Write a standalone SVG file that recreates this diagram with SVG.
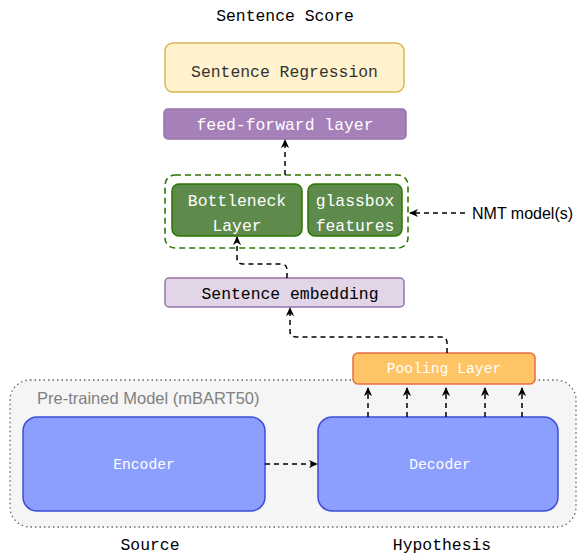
<svg xmlns="http://www.w3.org/2000/svg" width="578" height="553" viewBox="0 0 578 553">
  <style>
    .mono { font-family: "Liberation Mono", "Courier New", monospace; text-anchor: middle; dominant-baseline: central; }
    .big { font-size: 16.4px; }
    .small { font-size: 14.7px; }
    .sans { font-family: "Liberation Sans", Arial, Helvetica, sans-serif; }
    .flow { fill: none; stroke: #000; stroke-width: 1.5; stroke-dasharray: 5 4; marker-end: url(#head); }
  </style>
  <defs>
    <marker id="head" viewBox="0 0 10 10" refX="9" refY="5" markerWidth="9" markerHeight="9" orient="auto" markerUnits="userSpaceOnUse">
      <path d="M0,0.5 L10,5 L0,9.5 L3,5 Z" fill="#000"/>
    </marker>
  </defs>

  <!-- Pre-trained model container -->
  <g id="pretrained">
    <rect x="10" y="380" width="566" height="147" rx="20" fill="#f5f5f5" stroke="#666" stroke-width="1.3" stroke-dasharray="1.5 3"/>
    <text class="sans" x="37" y="404" font-size="16.5" fill="#808080">Pre-trained Model (mBART50)</text>
  </g>

  <g id="title">
    <text class="mono big" x="285" y="16" fill="#000">Sentence Score</text>
  </g>

  <g id="regression">
    <rect x="165" y="43" width="239" height="49" rx="8" fill="#fff2cc" stroke="#d6b656" stroke-width="1.5"/>
    <text class="mono big" x="284.5" y="72" fill="#333">Sentence Regression</text>
  </g>

  <g id="feedforward">
    <rect x="164" y="109" width="242" height="30" rx="4" fill="#a680b8" stroke="#9673a6" stroke-width="1.5"/>
    <text class="mono big" x="285" y="125" fill="#fff">feed-forward layer</text>
  </g>

  <g id="features-group">
    <rect x="165" y="175" width="243" height="73" rx="10" fill="none" stroke="#2d7600" stroke-width="1.6" stroke-dasharray="6 4"/>
  </g>

  <g id="bottleneck">
    <rect x="172" y="184" width="130" height="52" rx="7" fill="#5e8a4c" stroke="#2d7600" stroke-width="1.5"/>
    <text class="mono big" x="237" y="201" fill="#fff">Bottleneck</text>
    <text class="mono big" x="237" y="226" fill="#fff">Layer</text>
  </g>

  <g id="glassbox">
    <rect x="308" y="184" width="94" height="52" rx="7" fill="#5e8a4c" stroke="#2d7600" stroke-width="1.5"/>
    <text class="mono big" x="355" y="201" fill="#fff">glassbox</text>
    <text class="mono big" x="355" y="226" fill="#fff">features</text>
  </g>

  <g id="nmt">
    <text class="sans" x="472" y="219" font-size="16" fill="#000">NMT model(s)</text>
  </g>

  <g id="embedding">
    <rect x="165" y="278" width="239" height="29" rx="4" fill="#e1d5e7" stroke="#9673a6" stroke-width="1.5"/>
    <text class="mono big" x="290" y="294" fill="#000">Sentence embedding</text>
  </g>

  <g id="pooling">
    <rect x="353" y="353" width="182" height="31" rx="5" fill="#ffc465" stroke="#ea6b45" stroke-width="1.5"/>
    <text class="mono small" x="444" y="369" fill="#fff">Pooling Layer</text>
  </g>

  <g id="encoder">
    <rect x="23" y="417" width="242" height="94" rx="14" fill="#8c9efe" stroke="#3d4fd6" stroke-width="1.5"/>
    <text class="mono small" x="144" y="465" fill="#fff">Encoder</text>
  </g>

  <g id="decoder">
    <rect x="318" y="417" width="240" height="94" rx="14" fill="#8c9efe" stroke="#3d4fd6" stroke-width="1.5"/>
    <text class="mono small" x="440" y="465" fill="#fff">Decoder</text>
  </g>

  <g id="labels">
    <text class="mono big" x="150" y="545" fill="#000">Source</text>
    <text class="mono big" x="442" y="545" fill="#000">Hypothesis</text>
  </g>

  <g id="connectors">
    <path class="flow" d="M285,175 L285,140"/>
    <path class="flow" d="M465,213 L410,213"/>
    <path class="flow" d="M287,278 L287,270 Q287,264 281,264 L243,264 Q237,264 237,258 L237,237"/>
    <path class="flow" d="M447,353 L447,343 Q447,337 441,337 L296,337 Q290,337 290,331 L290,308"/>
    <path class="flow" d="M265,464 L317,464"/>
    <path class="flow" d="M368,417 L368,388"/>
    <path class="flow" d="M407,417 L407,388"/>
    <path class="flow" d="M446,417 L446,388"/>
    <path class="flow" d="M485,417 L485,388"/>
    <path class="flow" d="M522,417 L522,388"/>
  </g>
</svg>
